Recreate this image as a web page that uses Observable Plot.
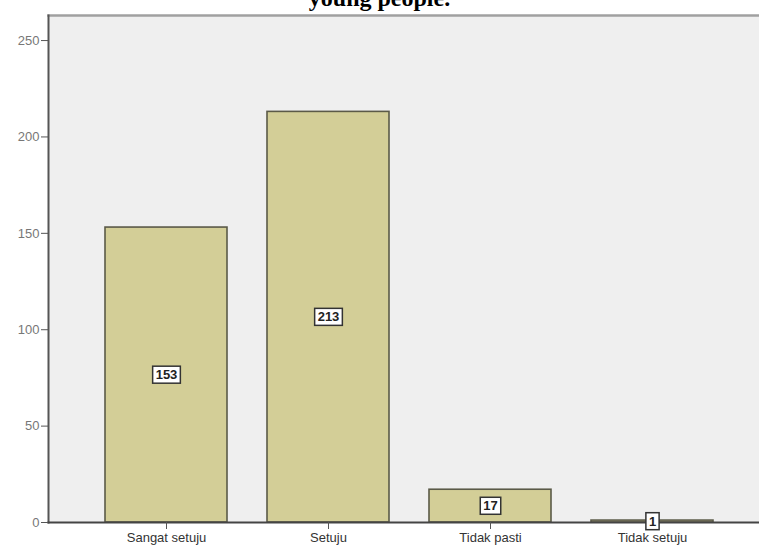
<!DOCTYPE html>
<html>
<head>
<meta charset="utf-8">
<script src="https://cdn.jsdelivr.net/npm/d3@7"></script>
<script src="https://cdn.jsdelivr.net/npm/@observablehq/plot@0.6"></script>
<style>
  html, body { margin: 0; padding: 0; background: #fff; overflow: hidden; }
  #wrap { position: relative; width: 759px; height: 546px; }
  #title { position: absolute; left: 0; top: -14px; width: 759px; text-align: center;
           font: bold 24px "Liberation Serif", "Times New Roman", serif; line-height: 24px; color: #000; }
  #chart { position: absolute; left: 0; top: 0; }
</style>
</head>
<body>
<div id="wrap">
  <div id="chart"></div>
  <div id="title">young people.</div>
</div>
<script>
const categories = ["Sangat setuju", "Setuju", "Tidak pasti", "Tidak setuju"];
const counts = [153, 213, 17, 1];
const yTicks = [0, 50, 100, 150, 200, 250];

const data = categories.map((c, i) => ({category: c, count: counts[i]}));

const chart = Plot.plot({
  width: 759,
  height: 546,
  marginTop: 15,
  marginBottom: 24,
  marginLeft: 48,
  marginRight: 0,
  style: {fontFamily: "'Liberation Sans', Arial, sans-serif", fontSize: "13px", background: "#fff"},
  x: {domain: categories, paddingInner: 0.247, paddingOuter: 0.315, align: 0.55, label: null},
  y: {domain: [0, 263], label: null},
  marks: [
    Plot.frame({fill: "#efefef", stroke: null}),
    Plot.frame({anchor: "top", stroke: "#a0a0a0", strokeWidth: 2.5}),
    Plot.barY(data, {x: "category", y: "count", fill: "#d3ce97", stroke: "#5b5a48", strokeWidth: 1.6}),
    Plot.frame({anchor: "left", stroke: "#555", strokeWidth: 2}),
    Plot.frame({anchor: "bottom", stroke: "#444", strokeWidth: 2}),
    Plot.axisY({ticks: yTicks, tickSize: 7, tickPadding: 2, stroke: "#555", color: "#777", fontSize: 13, tickFormat: d3.format("d")}),
    Plot.axisX({tickSize: 7, tickPadding: 3, stroke: "#555", color: "#333", fontSize: 13}),
    Plot.text(data, {x: "category", y: d => d.count / 2, text: d => String(d.count),
      fill: "#222", fontWeight: "bold", fontSize: 13})
  ]
});

document.getElementById("chart").appendChild(chart);

// white boxes behind value labels
chart.querySelectorAll('g[aria-label="text"]').forEach(g => {
  g.querySelectorAll("text").forEach(t => {
    const b = t.getBBox();
    const r = document.createElementNS("http://www.w3.org/2000/svg", "rect");
    const padX = 3, padY = 2;
    r.setAttribute("x", b.x - padX);
    r.setAttribute("y", b.y - padY + 1);
    r.setAttribute("width", b.width + 2 * padX);
    r.setAttribute("height", b.height + 2 * padY - 2);
    r.setAttribute("fill", "#fff");
    r.setAttribute("stroke", "#333");
    r.setAttribute("stroke-width", "1.5");
    const tr = t.getAttribute("transform");
    if (tr) r.setAttribute("transform", tr);
    t.parentNode.insertBefore(r, t);
  });
});
</script>
</body>
</html>
